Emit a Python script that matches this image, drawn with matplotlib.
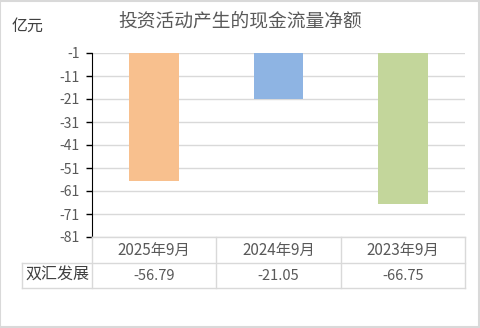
import matplotlib
matplotlib.use('Agg')
import matplotlib.pyplot as plt
from matplotlib.patches import Rectangle
from matplotlib.lines import Line2D

plt.rcParams['font.family'] = ['Noto Sans CJK SC', 'DejaVu Sans']

title = '投资活动产生的现金流量净额'
unit = '亿元'
company = '双汇发展'
periods = ['2025年9月', '2024年9月', '2023年9月']
values = [-56.79, -21.05, -66.75]
bar_colors = ['#F8C08E', '#8EB4E3', '#C3D69B']
y_ticks = [-1, -11, -21, -31, -41, -51, -61, -71, -81]

W, H = 480, 328
fig = plt.figure(figsize=(W / 100, H / 100), dpi=100)

def fx(px):
    return px / W

def fy(py):
    return 1 - py / H

grid_c = '#D9D9D9'
text_c = '#595959'

# plot area
left, right, top, bottom = 92, 465, 53, 237
ax = fig.add_axes([fx(left), fy(bottom), fx(right - left), fy(top) - fy(bottom)])
base = y_ticks[0]
xs = range(len(values))
ax.bar(xs, [v - base for v in values], bottom=base, width=0.4, color=bar_colors)
ax.set_xlim(-0.5, len(values) - 0.5)
ax.set_ylim(y_ticks[-1], y_ticks[0])
ax.set_yticks(y_ticks)
ax.set_yticklabels([str(t) for t in y_ticks], fontsize=10, color=text_c)
ax.yaxis.grid(True, color=grid_c, linewidth=1)
ax.set_axisbelow(True)
ax.set_xticks([])
ax.tick_params(axis='y', length=4, width=1, color='black', pad=5)
for s in ['top', 'right', 'bottom']:
    ax.spines[s].set_visible(False)
ax.spines['left'].set_color('black')

# title and unit
fig.text(fx(240), fy(21), title, ha='center', va='center', fontsize=13.5, color=text_c)
fig.text(fx(12), fy(26), unit, ha='left', va='center', fontsize=11.5, color='#404040')

# data table under the plot
col_edges = [left + i * (right - left) / len(values) for i in range(len(values) + 1)]
row1, row2, row3 = bottom, 263, 288
label_left = 22

def hline(x0, x1, y):
    fig.add_artist(Line2D([fx(x0), fx(x1)], [fy(y), fy(y)], color=grid_c, linewidth=1))

def vline(x, y0, y1):
    fig.add_artist(Line2D([fx(x), fx(x)], [fy(y0), fy(y1)], color=grid_c, linewidth=1))

hline(left, right, row1)
hline(label_left, right, row2)
hline(label_left, right, row3)
for x in col_edges:
    vline(x, row1, row3)
vline(label_left, row2, row3)

for i, (p, v) in enumerate(zip(periods, values)):
    cx = (col_edges[i] + col_edges[i + 1]) / 2
    fig.text(fx(cx), fy((row1 + row2) / 2), p, ha='center', va='center', fontsize=11, color=text_c)
    fig.text(fx(cx), fy((row2 + row3) / 2), f'{v:.2f}', ha='center', va='center', fontsize=10.5, color=text_c)
fig.text(fx((label_left + left) / 2), fy((row2 + row3) / 2), company, ha='center', va='center',
         fontsize=11.5, color='#404040')

# outer border
fig.add_artist(Rectangle((0.001, 0.002), 0.997, 0.995, transform=fig.transFigure,
                         fill=False, edgecolor=grid_c, linewidth=1.5))

fig.savefig('out.png', dpi=100)
